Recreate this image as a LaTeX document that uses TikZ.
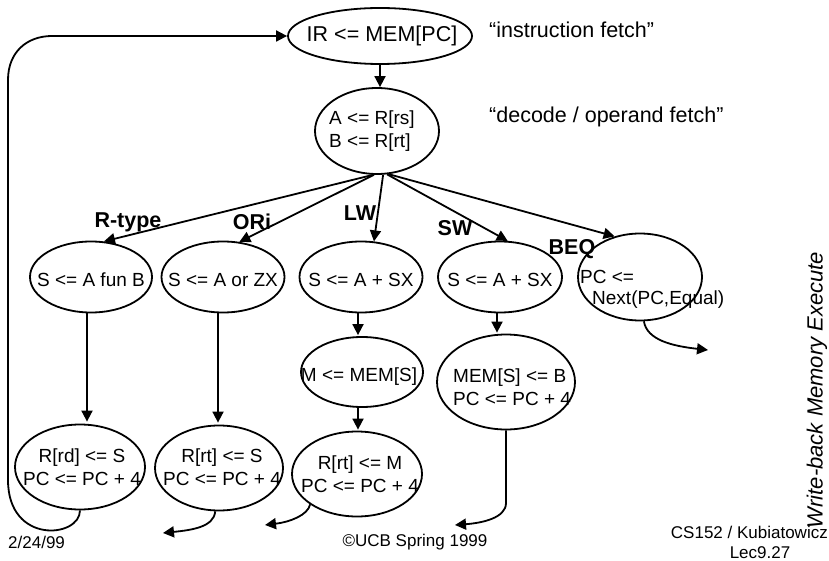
\documentclass[tikz,border=0pt]{standalone}
\usepackage{fontspec}
\setmainfont{Liberation Sans}
\usetikzlibrary{shapes.geometric,arrows.meta,calc}
\begin{document}
\begin{tikzpicture}[x=1pt,y=-1pt,
  st/.style={draw,ellipse,line width=1.8pt,inner sep=0pt},
  txt/.style={inner sep=0pt,font=\fontsize{19}{23}\selectfont,align=center},
  txtl/.style={inner sep=0pt,font=\fontsize{19}{23}\selectfont,align=left},
  lab/.style={inner sep=0pt,font=\fontsize{21.5}{25}\selectfont\bfseries},
  note/.style={inner sep=0pt,font=\fontsize{21.5}{25}\selectfont,anchor=west},
  foot/.style={inner sep=0pt,font=\fontsize{17}{21}\selectfont,align=center},
  arr/.style={line width=1.8pt,-{Triangle[length=11pt,width=11pt]}},
  ln/.style={line width=1.8pt}]
\useasboundingbox (0,0) rectangle (829,561);
% ellipses
\node[st,minimum width=184pt,minimum height=56pt] (ir) at (380,36) {};
\node[st,minimum width=124pt,minimum height=86pt] (dec) at (377,131) {};
\node[st,minimum width=122pt,minimum height=71pt] (n1) at (91,277) {};
\node[st,minimum width=123pt,minimum height=71pt] (n2) at (223,277) {};
\node[st,minimum width=123pt,minimum height=71pt] (n3) at (361,277) {};
\node[st,minimum width=124pt,minimum height=71pt] (n4) at (500,277) {};
\node[st,minimum width=124pt,minimum height=87pt] (n5) at (640,277) {};
\node[st,minimum width=122pt,minimum height=70pt] (m3) at (362,372) {};
\node[st,minimum width=138pt,minimum height=95pt] (m4) at (506,382) {};
\node[st,minimum width=130pt,minimum height=85pt] (w1) at (80,467) {};
\node[st,minimum width=128pt,minimum height=85pt] (w2) at (219,468) {};
\node[st,minimum width=130pt,minimum height=85pt] (w3) at (357,474) {};
% texts
\node[txt,font=\fontsize{21.5}{25}\selectfont] (tir) at (382,36) {IR <= MEM[PC]};
\node[txtl] (tdec) at (372,131) {A <= R[rs]\\B <= R[rt]};
\node[txt] (t1) at (91,280) {S <= A fun B};
\node[txt] (t2) at (223,280) {S <= A or ZX};
\node[txt] (t3) at (361,280) {S <= A + SX};
\node[txt] (t4) at (500,280) {S <= A + SX};
\node[txtl,anchor=west] (t5a) at (580,277) {PC <=};
\node[txtl,anchor=west] (t5b) at (592,300) {Next(PC,Equal)};
\node[txt] (tm3) at (359,377) {M <= MEM[S]};
\node[txtl,anchor=west] (tm4) at (453,387) {MEM[S] <= B\\PC <= PC + 4};
\node[txt] (tw1) at (82,467) {R[rd] <= S\\PC <= PC + 4};
\node[txt] (tw2) at (222,467) {R[rt] <= S\\PC <= PC + 4};
\node[txt] (tw3) at (360,474) {R[rt] <= M\\PC <= PC + 4};
% labels
\node[lab] (lr) at (128,222) {R-type};
\node[lab] (lo) at (252,222) {ORi};
\node[lab] (llw) at (360,213) {LW};
\node[lab] (lsw) at (455,228) {SW};
\node[lab] (lbeq) at (572,249) {BEQ};
\node[note] (q1) at (489,30) {“instruction fetch”};
\node[note] (q2) at (489,117) {“decode / operand fetch”};
% footer
\node[foot,anchor=west] (f1) at (8,542) {2/24/99};
\node[foot] (f2) at (415,542) {©UCB Spring 1999};
\node[foot,anchor=east] (f3) at (828,532) {CS152 / Kubiatowicz};
\node[foot] (f4) at (760,553) {Lec9.27};
\node[inner sep=0pt,rotate=90,font=\fontsize{22}{26}\selectfont\itshape] (vt) at (817,390) {Write-back Memory Execute};
% connectors
\draw[arr] (ir.south) -- (ir.south |- dec.north);
\draw[arr] (dec.265) -- (n1.70);
\draw[arr] (dec.266) -- (n2.65);
\draw[arr] (dec.278) -- (n3.70);
\draw[arr] (dec.283) -- (n4.78);
\draw[arr] (dec.285) -- (n5.122);
\draw[arr] ($(n1.south)+(-4,0)$) -- ($(w1.north)+(7,-2)$);
\draw[arr] ($(n2.south)+(-5,0)$) -- ($(w2.north)+(-1,-2)$);
\draw[arr] ($(n3.south)+(-3,0)$) -- ($(m3.north)+(-4,-1)$);
\draw[arr] ($(m3.south)+(-4,0)$) -- ($(w3.north)+(1,-1)$);
\draw[arr] ($(n4.south)+(-3,0)$) -- ($(m4.north)+(-9,-1)$);
% free ends
\coordinate (lc1) at (8,480);
\coordinate (lc2) at (8,80);
\coordinate (lc3) at (52,36);
\draw[arr] (w1.south) .. controls (80,538) and (8,545) .. (lc1) -- (lc2) .. controls (8,52) and (27,36) .. (lc3) -- (ir.west);
\coordinate (e2) at (163,533);
\draw[arr] (w2.265) .. controls (214,527) and (192,530) .. (e2);
\coordinate (e3) at (265,525);
\draw[arr] (w3.213) .. controls (308,515) and (290,522) .. (e3);
\coordinate (k4) at (506,503);
\coordinate (e4) at (455,525);
\draw[arr] (m4.south) -- (k4) .. controls (506,518) and (482,523) .. (e4);
\coordinate (e5) at (708,350);
\draw[arr] (n5.275) .. controls (647,340) and (672,346) .. (e5);
\end{tikzpicture}
\end{document}
